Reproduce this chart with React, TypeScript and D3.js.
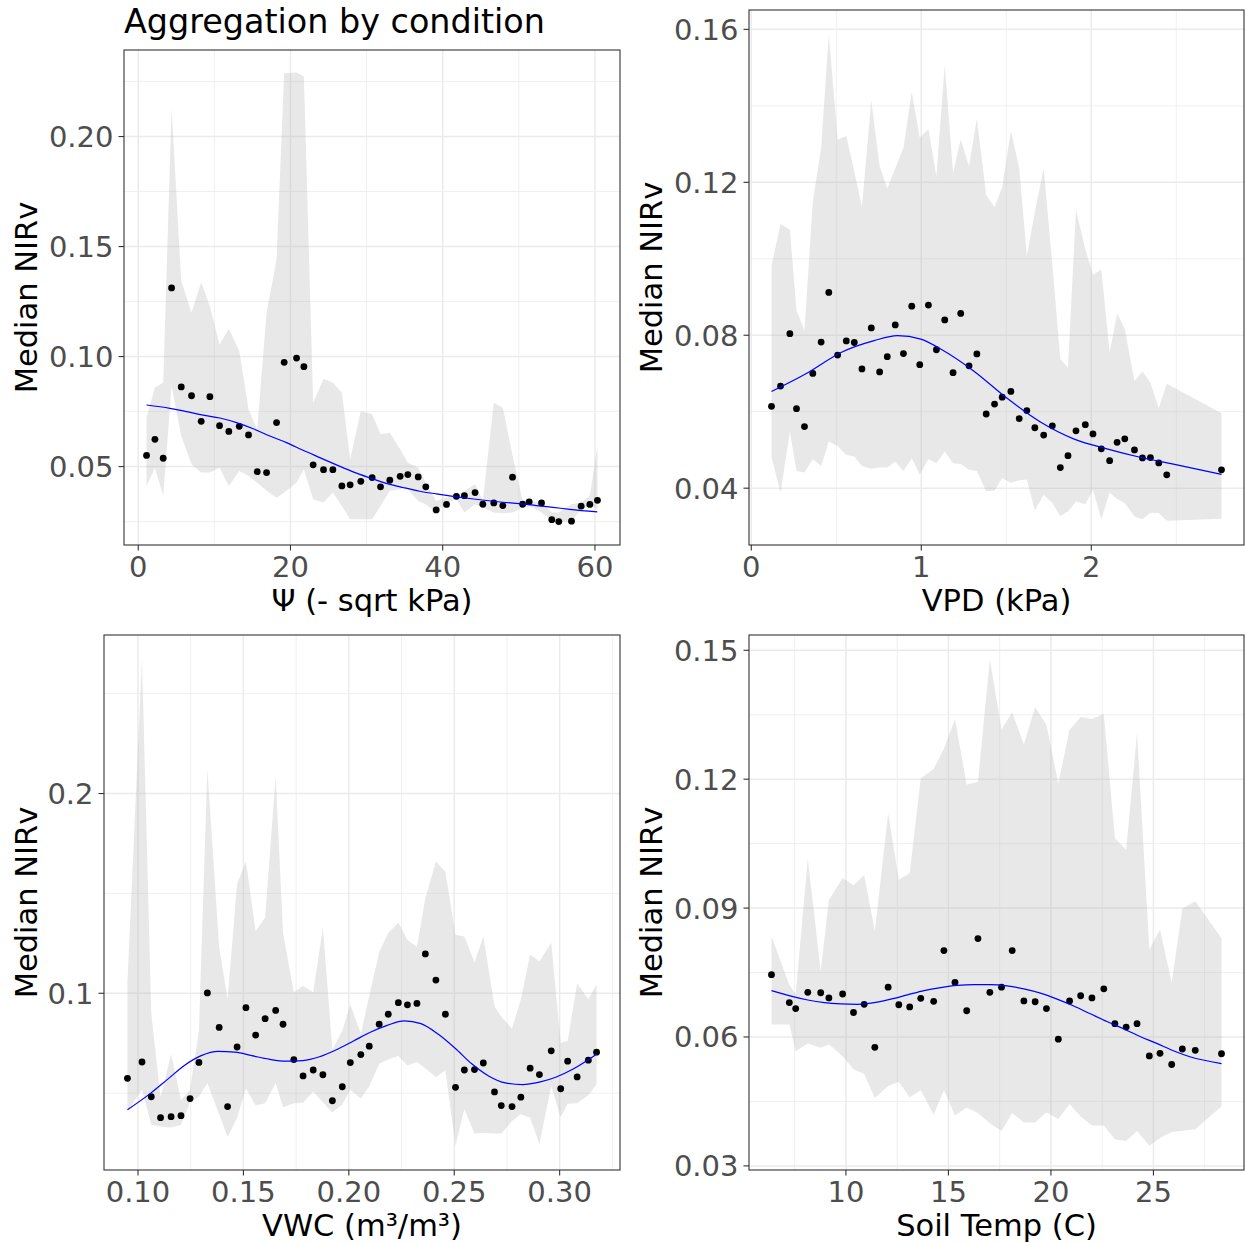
import React from 'react';
import * as d3 from 'd3';

// ---- Ψ (soil water potential) panel
const psiX = [1.09, 2.19, 3.28, 4.38, 5.65, 7.0, 8.27, 9.41, 10.68, 11.9, 13.27, 14.49, 15.63, 16.86, 18.17, 19.17, 20.8, 21.76, 22.98, 24.34, 25.57, 26.75, 27.84, 29.24, 30.73, 31.83, 33.05, 34.41, 35.42, 36.78, 37.78, 39.14, 40.5, 41.8, 42.85, 44.25, 45.27, 46.71, 47.9, 49.17, 50.5, 51.36, 52.98, 54.33, 55.25, 56.92, 58.19, 59.33, 60.33];
const psiMedian = [0.0551, 0.0624, 0.0538, 0.1312, 0.0862, 0.0822, 0.0706, 0.0818, 0.0686, 0.066, 0.0683, 0.0644, 0.0477, 0.0473, 0.07, 0.0974, 0.0993, 0.0954, 0.0508, 0.0486, 0.0486, 0.0412, 0.0417, 0.0433, 0.045, 0.0408, 0.0438, 0.0456, 0.0464, 0.0453, 0.0408, 0.0303, 0.0328, 0.0365, 0.0368, 0.0382, 0.0329, 0.0335, 0.0323, 0.0452, 0.0329, 0.034, 0.0335, 0.0259, 0.025, 0.0252, 0.032, 0.0328, 0.0347];
const psiUpper = [0.0722, 0.0859, 0.0881, 0.2129, 0.1343, 0.1199, 0.1338, 0.1229, 0.1055, 0.1126, 0.1025, 0.076, 0.0669, 0.1199, 0.1441, 0.2288, 0.2291, 0.2273, 0.079, 0.0899, 0.0881, 0.0836, 0.0533, 0.0753, 0.0738, 0.0647, 0.0654, 0.0579, 0.0518, 0.0495, 0.0427, 0.0344, 0.0359, 0.0367, 0.039, 0.042, 0.0345, 0.079, 0.0768, 0.055, 0.0344, 0.0344, 0.0337, 0.0291, 0.0291, 0.0329, 0.0337, 0.0367, 0.0594];
const psiLower = [0.0412, 0.0495, 0.0367, 0.0866, 0.0639, 0.0511, 0.0473, 0.0473, 0.0495, 0.0412, 0.048, 0.0458, 0.0427, 0.039, 0.0359, 0.0382, 0.0427, 0.0488, 0.0352, 0.0337, 0.0382, 0.0321, 0.0261, 0.0261, 0.0261, 0.0321, 0.039, 0.0397, 0.0397, 0.0344, 0.0329, 0.0291, 0.0337, 0.0352, 0.0291, 0.0329, 0.0314, 0.0291, 0.0288, 0.0291, 0.0314, 0.0321, 0.0291, 0.0253, 0.0246, 0.0253, 0.0306, 0.0321, 0.0306];
const psiFitX = [1.09, 4.16, 6.35, 8.53, 10.72, 12.91, 15.1, 17.29, 19.47, 21.66, 23.85, 26.04, 28.23, 30.42, 32.6, 34.79, 36.98, 39.17, 41.36, 43.54, 45.73, 47.92, 50.11, 52.3, 54.49, 56.67, 60.31];
const psiFitY = [0.078, 0.0765, 0.075, 0.0734, 0.0721, 0.07, 0.0672, 0.0639, 0.0609, 0.0574, 0.0541, 0.0508, 0.0476, 0.0449, 0.0424, 0.0405, 0.0388, 0.0376, 0.0365, 0.0355, 0.0346, 0.0338, 0.0332, 0.0323, 0.0315, 0.0306, 0.0294];
const psiXTicks = [0, 20, 40, 60];
const psiXLabels = ['0', '20', '40', '60'];
const psiYTicks = [0.05, 0.1, 0.15, 0.2];
const psiYLabels = ['0.05', '0.10', '0.15', '0.20'];

// ---- VPD panel
const vpdX = [0.119, 0.172, 0.227, 0.266, 0.313, 0.362, 0.411, 0.456, 0.508, 0.559, 0.606, 0.651, 0.706, 0.755, 0.8, 0.847, 0.895, 0.944, 0.991, 1.042, 1.089, 1.138, 1.187, 1.232, 1.281, 1.327, 1.382, 1.431, 1.476, 1.527, 1.576, 1.621, 1.668, 1.72, 1.771, 1.818, 1.863, 1.91, 1.965, 2.01, 2.059, 2.108, 2.152, 2.197, 2.254, 2.301, 2.348, 2.397, 2.444, 2.766];
const vpdMedian = [0.0614, 0.0667, 0.0804, 0.0608, 0.0561, 0.07, 0.0782, 0.0912, 0.0748, 0.0785, 0.0781, 0.0712, 0.0819, 0.0704, 0.0744, 0.0827, 0.0752, 0.0876, 0.0723, 0.0879, 0.0762, 0.084, 0.0702, 0.0857, 0.072, 0.0751, 0.0594, 0.062, 0.0638, 0.0653, 0.0582, 0.0603, 0.0558, 0.0539, 0.0563, 0.0454, 0.0485, 0.055, 0.0566, 0.0542, 0.0503, 0.0472, 0.052, 0.0529, 0.05, 0.0479, 0.048, 0.0466, 0.0435, 0.0448];
const vpdUpper = [0.0981, 0.1091, 0.1076, 0.0865, 0.0812, 0.1149, 0.129, 0.1587, 0.1312, 0.1321, 0.1228, 0.1135, 0.1414, 0.1242, 0.1184, 0.1237, 0.129, 0.1436, 0.1317, 0.1339, 0.1215, 0.1507, 0.1224, 0.1312, 0.1242, 0.1366, 0.1166, 0.1135, 0.1188, 0.1335, 0.1237, 0.1007, 0.1122, 0.1237, 0.0985, 0.0737, 0.0715, 0.1127, 0.1025, 0.0958, 0.0972, 0.0755, 0.0857, 0.0817, 0.068, 0.0706, 0.0675, 0.0609, 0.0673, 0.0596];
const vpdLower = [0.0481, 0.0388, 0.0547, 0.0445, 0.0441, 0.0476, 0.0458, 0.0522, 0.051, 0.0487, 0.0483, 0.0458, 0.0451, 0.0454, 0.0454, 0.0469, 0.0445, 0.0478, 0.0436, 0.0476, 0.0465, 0.0496, 0.0465, 0.0463, 0.0448, 0.0445, 0.0392, 0.0394, 0.0426, 0.0414, 0.0421, 0.0423, 0.0342, 0.0383, 0.0361, 0.0327, 0.0339, 0.0365, 0.0358, 0.0396, 0.0319, 0.0389, 0.0372, 0.0361, 0.0326, 0.0319, 0.0336, 0.0335, 0.0315, 0.032];
const vpdFitX = [0.119, 0.332, 0.528, 0.723, 0.86, 0.997, 1.114, 1.31, 1.505, 1.701, 1.896, 2.092, 2.287, 2.483, 2.766];
const vpdFitY = [0.0653, 0.0702, 0.0755, 0.0786, 0.0799, 0.079, 0.0764, 0.0706, 0.0635, 0.0573, 0.0529, 0.0503, 0.0481, 0.0463, 0.0436];
const vpdXTicks = [0, 1, 2];
const vpdXLabels = ['0', '1', '2'];
const vpdYTicks = [0.04, 0.08, 0.12, 0.16];
const vpdYLabels = ['0.04', '0.08', '0.12', '0.16'];

// ---- VWC panel
const vwcX = [0.095, 0.1019, 0.1063, 0.1107, 0.1157, 0.1204, 0.1247, 0.1289, 0.1329, 0.1385, 0.1425, 0.147, 0.1512, 0.1558, 0.1603, 0.1653, 0.1688, 0.1739, 0.1783, 0.1831, 0.1877, 0.1922, 0.1969, 0.2007, 0.2057, 0.2097, 0.2144, 0.2187, 0.2235, 0.2278, 0.2323, 0.2363, 0.2413, 0.2458, 0.2506, 0.2548, 0.2596, 0.2638, 0.2691, 0.2723, 0.2774, 0.2816, 0.286, 0.2904, 0.296, 0.3005, 0.3038, 0.3083, 0.3136, 0.3175];
const vwcMedian = [0.0574, 0.0656, 0.0482, 0.0377, 0.0382, 0.0387, 0.0473, 0.0654, 0.1002, 0.0829, 0.0433, 0.0731, 0.0928, 0.0791, 0.0873, 0.0914, 0.0845, 0.0668, 0.0586, 0.0616, 0.0592, 0.0462, 0.0532, 0.0653, 0.0693, 0.0735, 0.0845, 0.0895, 0.0953, 0.0942, 0.0949, 0.1197, 0.1066, 0.0895, 0.0529, 0.0616, 0.0618, 0.0651, 0.0506, 0.0438, 0.0433, 0.048, 0.0625, 0.0593, 0.0712, 0.0522, 0.066, 0.0581, 0.0665, 0.0705];
const vwcUpper = [0.1058, 0.2672, 0.0901, 0.0479, 0.0696, 0.0464, 0.0517, 0.0813, 0.2122, 0.1232, 0.097, 0.1546, 0.166, 0.1311, 0.138, 0.2087, 0.1302, 0.1005, 0.1037, 0.1005, 0.1328, 0.0717, 0.0813, 0.0944, 0.0796, 0.0988, 0.1206, 0.1302, 0.1354, 0.1267, 0.1232, 0.1476, 0.166, 0.1607, 0.1293, 0.1284, 0.1154, 0.1284, 0.0935, 0.0883, 0.0822, 0.097, 0.1194, 0.1159, 0.1253, 0.0752, 0.0761, 0.1049, 0.097, 0.1044];
const vwcLower = [0.0412, 0.0517, 0.0342, 0.0333, 0.0328, 0.0342, 0.0455, 0.0482, 0.0551, 0.0394, 0.0281, 0.0377, 0.0525, 0.0438, 0.045, 0.0551, 0.0429, 0.045, 0.0452, 0.0508, 0.0455, 0.0403, 0.0443, 0.0517, 0.0473, 0.0534, 0.0647, 0.0668, 0.0686, 0.0639, 0.0656, 0.0625, 0.0581, 0.0613, 0.0237, 0.0421, 0.0298, 0.0302, 0.0298, 0.0298, 0.036, 0.0394, 0.0377, 0.0246, 0.0534, 0.038, 0.0447, 0.045, 0.049, 0.0543];
const vwcFitX = [0.095, 0.1059, 0.114, 0.122, 0.13, 0.138, 0.146, 0.154, 0.1621, 0.1701, 0.1781, 0.1861, 0.1941, 0.2022, 0.2102, 0.2182, 0.2262, 0.2342, 0.2423, 0.2503, 0.2583, 0.2663, 0.2743, 0.2824, 0.2904, 0.2984, 0.3064, 0.3175];
const vwcFitY = [0.0417, 0.0499, 0.0569, 0.0639, 0.0688, 0.0709, 0.0705, 0.0688, 0.067, 0.066, 0.0663, 0.0682, 0.0717, 0.0761, 0.0805, 0.0839, 0.0862, 0.0848, 0.0796, 0.0726, 0.0647, 0.0586, 0.0551, 0.0543, 0.0555, 0.0581, 0.0621, 0.0695];
const vwcXTicks = [0.1, 0.15, 0.2, 0.25, 0.3];
const vwcXLabels = ['0.10', '0.15', '0.20', '0.25', '0.30'];
const vwcYTicks = [0.1, 0.2];
const vwcYLabels = ['0.1', '0.2'];

// ---- soil temperature panel
const tempX = [6.37, 7.24, 7.55, 8.14, 8.77, 9.17, 9.84, 10.37, 10.89, 11.41, 12.06, 12.58, 13.11, 13.65, 14.28, 14.78, 15.32, 15.89, 16.44, 17.02, 17.59, 18.11, 18.68, 19.23, 19.78, 20.36, 20.91, 21.45, 22.0, 22.58, 23.12, 23.67, 24.2, 24.8, 25.32, 25.89, 26.41, 27.04, 28.32];
const tempMedian = [0.0745, 0.068, 0.0666, 0.0704, 0.0703, 0.0691, 0.07, 0.0657, 0.0676, 0.0576, 0.0716, 0.0675, 0.067, 0.069, 0.0683, 0.0801, 0.0727, 0.0661, 0.0829, 0.0704, 0.0716, 0.0801, 0.0684, 0.0682, 0.0666, 0.0595, 0.0684, 0.0696, 0.0691, 0.0712, 0.0631, 0.0623, 0.0631, 0.0556, 0.0562, 0.0536, 0.0572, 0.0569, 0.0561];
const tempUpper = [0.0834, 0.0721, 0.07, 0.1016, 0.0753, 0.0919, 0.097, 0.0953, 0.0977, 0.0846, 0.1121, 0.0966, 0.0981, 0.1202, 0.1224, 0.1271, 0.134, 0.1187, 0.1194, 0.1479, 0.1315, 0.1356, 0.1281, 0.1368, 0.1326, 0.119, 0.1315, 0.1345, 0.134, 0.1352, 0.1062, 0.1036, 0.1307, 0.0803, 0.085, 0.0727, 0.0899, 0.0916, 0.083];
const tempLower = [0.0629, 0.0629, 0.0567, 0.0585, 0.0575, 0.0583, 0.0555, 0.0525, 0.0514, 0.0458, 0.0486, 0.0496, 0.046, 0.0476, 0.0419, 0.0476, 0.0417, 0.0436, 0.0423, 0.0399, 0.0381, 0.0423, 0.0401, 0.0401, 0.0425, 0.0409, 0.0444, 0.0415, 0.0394, 0.0394, 0.0362, 0.0358, 0.0381, 0.0347, 0.0365, 0.0379, 0.0382, 0.0385, 0.0439];
const tempFitX = [6.37, 7.32, 8.14, 8.95, 9.76, 10.57, 11.38, 12.19, 13.0, 13.81, 14.62, 15.43, 16.24, 17.05, 17.86, 18.68, 19.49, 20.3, 21.11, 21.92, 22.73, 23.54, 24.35, 25.16, 25.97, 26.78, 28.32];
const tempFitY = [0.0708, 0.0695, 0.0686, 0.068, 0.0677, 0.0676, 0.068, 0.0688, 0.0698, 0.0708, 0.0715, 0.072, 0.0722, 0.0722, 0.0719, 0.0712, 0.0702, 0.0688, 0.0672, 0.0654, 0.0636, 0.0619, 0.0601, 0.0585, 0.0568, 0.0554, 0.0538];
const tempXTicks = [10, 15, 20, 25];
const tempXLabels = ['10', '15', '20', '25'];
const tempYTicks = [0.03, 0.06, 0.09, 0.12, 0.15];
const tempYLabels = ['0.03', '0.06', '0.09', '0.12', '0.15'];

const FONT = '"DejaVu Sans", Verdana, sans-serif';

// ggplot style: 5% padding around the data range
function expand(ext: number[]) {
  const pad = (ext[1] - ext[0]) * 0.05;
  return [ext[0] - pad, ext[1] + pad];
}

// minor breaks half way between the majors, one step past each end
function minorBreaks(major: number[], domain: number[]) {
  const step = major[1] - major[0];
  const out: number[] = [];
  for (let i = -1; i < major.length; i++) {
    const v = major[0] + step * (i + 0.5);
    if (v > domain[0] && v < domain[1]) out.push(v);
  }
  return out;
}

type Box = { left: number; top: number; right: number; bottom: number };

function Panel(props: {
  box: Box; x: number[]; med: number[]; lo: number[]; hi: number[];
  fitX: number[]; fitY: number[];
  xTicks: number[]; xLabels: string[]; yTicks: number[]; yLabels: string[];
  xTitle: string; yTitleX: number;
}) {
  const { box, x, med, lo, hi, fitX, fitY } = props;
  const xs = d3.scaleLinear()
    .domain(expand(d3.extent([...x, ...fitX]) as number[]))
    .range([box.left, box.right]);
  const ys = d3.scaleLinear()
    .domain(expand(d3.extent([...med, ...lo, ...hi, ...fitY]) as number[]))
    .range([box.bottom, box.top]);

  const ribbon = d3.area<number>()
    .x((_, i) => xs(x[i]))
    .y0((_, i) => ys(lo[i]))
    .y1((_, i) => ys(hi[i]));
  const fit = d3.line<number>()
    .x((d) => xs(d))
    .y((_, i) => ys(fitY[i]))
    .curve(d3.curveMonotoneX);

  const minorX = minorBreaks(props.xTicks, xs.domain());
  const minorY = minorBreaks(props.yTicks, ys.domain());
  const w = box.right - box.left;
  const h = box.bottom - box.top;

  return (
    <g>
      {minorX.map((v) => (
        <line key={'mx' + v} x1={xs(v)} x2={xs(v)} y1={box.top} y2={box.bottom} stroke="#EBEBEB" strokeWidth={0.75} />
      ))}
      {minorY.map((v) => (
        <line key={'my' + v} x1={box.left} x2={box.right} y1={ys(v)} y2={ys(v)} stroke="#EBEBEB" strokeWidth={0.75} />
      ))}
      {props.xTicks.map((v) => (
        <line key={'gx' + v} x1={xs(v)} x2={xs(v)} y1={box.top} y2={box.bottom} stroke="#EBEBEB" strokeWidth={1.5} />
      ))}
      {props.yTicks.map((v) => (
        <line key={'gy' + v} x1={box.left} x2={box.right} y1={ys(v)} y2={ys(v)} stroke="#EBEBEB" strokeWidth={1.5} />
      ))}

      <path d={ribbon(x) || ''} fill="#B3B3B3" fillOpacity={0.3} />
      {x.map((v, i) => (
        <circle key={'p' + i} cx={xs(v)} cy={ys(med[i])} r={3.4} fill="#000" />
      ))}
      <path d={fit(fitX) || ''} fill="none" stroke="#0000FF" strokeWidth={1.2} />

      <rect x={box.left} y={box.top} width={w} height={h} fill="none" stroke="#333333" strokeWidth={1.1} />

      {props.xTicks.map((v, i) => (
        <g key={'tx' + v}>
          <line x1={xs(v)} x2={xs(v)} y1={box.bottom} y2={box.bottom + 5.5} stroke="#333333" strokeWidth={1.1} />
          <text x={xs(v)} y={box.bottom + 31.7} textAnchor="middle" fontSize={29} fill="#4D4D4D" fontFamily={FONT}>
            {props.xLabels[i]}
          </text>
        </g>
      ))}
      {props.yTicks.map((v, i) => (
        <g key={'ty' + v}>
          <line x1={box.left - 5.5} x2={box.left} y1={ys(v)} y2={ys(v)} stroke="#333333" strokeWidth={1.1} />
          <text x={box.left - 10.5} y={ys(v)} dy="0.36em" textAnchor="end" fontSize={29} fill="#4D4D4D" fontFamily={FONT}>
            {props.yLabels[i]}
          </text>
        </g>
      ))}

      <text x={(box.left + box.right) / 2} y={box.bottom + 66} textAnchor="middle" fontSize={30.5} fill="#000" fontFamily={FONT}>
        {props.xTitle}
      </text>
      <text
        transform={`translate(${props.yTitleX},${(box.top + box.bottom) / 2}) rotate(-90)`}
        dy="0.36em" textAnchor="middle" fontSize={30.5} fill="#000" fontFamily={FONT}
      >
        Median NIRv
      </text>
    </g>
  );
}

export default function App() {
  return (
    <svg width={1246} height={1243} style={{ position: 'absolute', left: 0, top: 0, background: '#fff' }}>
      <rect x={0} y={0} width={1246} height={1243} fill="#fff" />
      <text x={124} y={33} fontSize={33.4} fill="#000" fontFamily={FONT}>Aggregation by condition</text>

      <Panel box={{ left: 124, top: 50, right: 620, bottom: 545 }}
        x={psiX} med={psiMedian} lo={psiLower} hi={psiUpper} fitX={psiFitX} fitY={psiFitY}
        xTicks={psiXTicks} xLabels={psiXLabels} yTicks={psiYTicks} yLabels={psiYLabels}
        xTitle="Ψ (- sqrt kPa)" yTitleX={26} />
      <Panel box={{ left: 749, top: 10, right: 1244, bottom: 545 }}
        x={vpdX} med={vpdMedian} lo={vpdLower} hi={vpdUpper} fitX={vpdFitX} fitY={vpdFitY}
        xTicks={vpdXTicks} xLabels={vpdXLabels} yTicks={vpdYTicks} yLabels={vpdYLabels}
        xTitle="VPD (kPa)" yTitleX={651} />
      <Panel box={{ left: 104, top: 635, right: 620, bottom: 1170 }}
        x={vwcX} med={vwcMedian} lo={vwcLower} hi={vwcUpper} fitX={vwcFitX} fitY={vwcFitY}
        xTicks={vwcXTicks} xLabels={vwcXLabels} yTicks={vwcYTicks} yLabels={vwcYLabels}
        xTitle="VWC (m³/m³)" yTitleX={26} />
      <Panel box={{ left: 749, top: 635, right: 1244, bottom: 1170 }}
        x={tempX} med={tempMedian} lo={tempLower} hi={tempUpper} fitX={tempFitX} fitY={tempFitY}
        xTicks={tempXTicks} xLabels={tempXLabels} yTicks={tempYTicks} yLabels={tempYLabels}
        xTitle="Soil Temp (C)" yTitleX={651} />
    </svg>
  );
}
